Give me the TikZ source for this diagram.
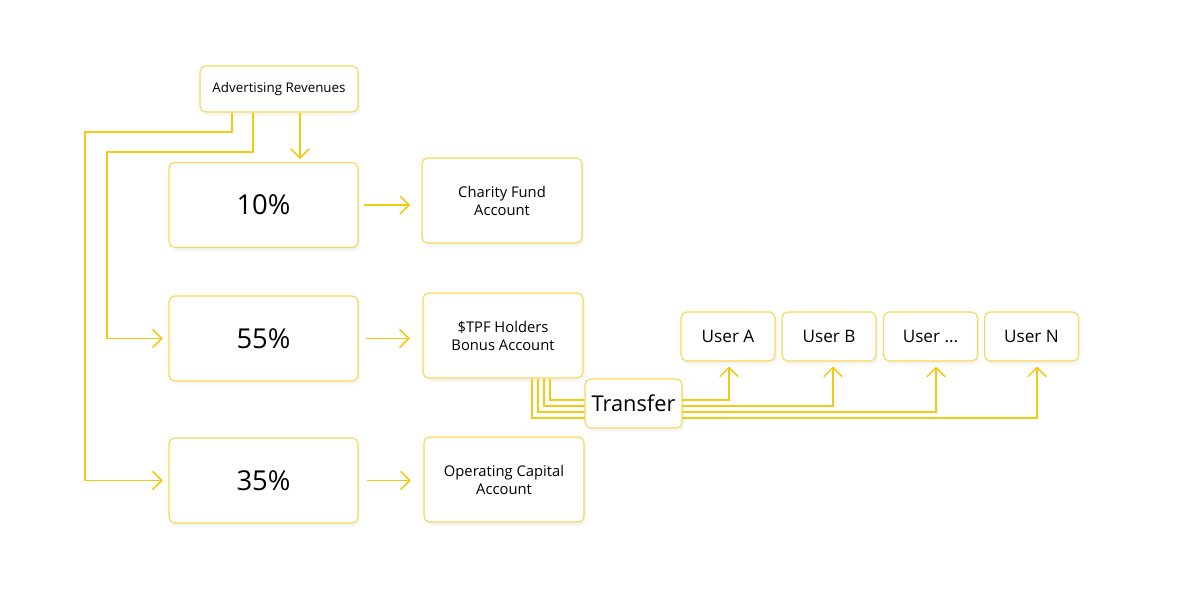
\documentclass[tikz,border=0pt]{standalone}
\usepackage{fontspec}
\setmainfont{Open Sans}
\usetikzlibrary{arrows.meta,shadows,calc}

\definecolor{flowline}{HTML}{F5C814}
\definecolor{boxline}{HTML}{F6D758}

\begin{document}
\begin{tikzpicture}[x=0.025cm, y=-0.025cm,
  box/.style={draw=boxline, line width=0.8pt, fill=white, rounded corners=4pt,
    align=center, inner sep=0pt,
    drop shadow={opacity=0.08, shadow xshift=1.5pt, shadow yshift=-2.5pt}},
  pctbox/.style={box, minimum width=4.725cm, minimum height=2.125cm, font=\fontsize{19.5}{22}\selectfont},
  accbox/.style={box, minimum width=4cm, minimum height=2.125cm, font=\fontsize{10.5}{12.8}\selectfont},
  userbox/.style={box, minimum width=2.35cm, minimum height=1.225cm, font=\fontsize{12.2}{14}\selectfont},
  flow/.style={draw=flowline, line width=1.1pt, -{Straight Barb[length=6.5pt,width=13pt,line width=1.1pt]}},
  wire/.style={draw=flowline, line width=1.1pt}]
  \useasboundingbox (0,0) rectangle (1200,602);

  % sources and shares
  \node[box, minimum width=3.95cm, minimum height=1.15cm, font=\fontsize{9.5}{11}\selectfont]
    (adv) at (279,89) {Advertising Revenues};
  \node[pctbox] (p10) at (263.5,205) {10\%};
  \node[pctbox] (p55) at (263.5,338.5) {55\%};
  \node[pctbox] (p35) at (263.5,480.5) {35\%};

  % accounts
  \node[accbox] (charity) at (502,200.5) {Charity Fund\\Account};
  \node[accbox] (tpf) at (503,335.5) {\$TPF Holders\\Bonus Account};
  \node[accbox] (oper) at (504,479.5) {Operating Capital\\Account};

  % users
  \node[userbox] (ua) at (728,336.5) {User A};
  \node[userbox] (ub) at (829,336.5) {User B};
  \node[userbox] (uc) at (930.5,336.5) {User ...};
  \node[userbox] (un) at (1031.5,336.5) {User N};

  % split of the revenues
  \coordinate (a35) at ($(adv.south)+(-47,0)$);
  \coordinate (a55) at ($(adv.south)+(-26,0)$);
  \coordinate (a10) at ($(adv.south)+(21,0)$);
  \coordinate (l35) at (85,132);
  \coordinate (l55) at (107,152);
  \draw[flow, shorten >=2pt] (a10) -- (a10 |- p10.north);
  \draw[flow, shorten >=4pt] (a55) |- (l55) |- (p55.west);
  \draw[flow, shorten >=4pt] (a35) |- (l35) |- (p35.west);

  \draw[flow, shorten <=4pt, shorten >=8pt] (p10.east) -- (p10.east -| charity.west);
  \draw[flow, shorten <=5pt, shorten >=9pt] (p55.east) -- (p55.east -| tpf.west);
  \draw[flow, shorten <=6pt, shorten >=9pt] (p35.east) -- (p35.east -| oper.west);

  % payouts to users
  \foreach \u/\x/\y/\s in {ua/550/400/1, ub/544/406/4, uc/538/412/5.5, un/532/418/5.5}
    \draw[flow, shorten >=3.5pt] (tpf.south -| \x,0) |- ($(\u.south |- 0,\y)+(\s,0)$)
      -- ($(\u.south)+(\s,0)$);

  \node[box, minimum width=2.425cm, minimum height=1.225cm, font=\fontsize{15.5}{18}\selectfont]
    (transfer) at (633.5,403.5) {Transfer};
\end{tikzpicture}
\end{document}
